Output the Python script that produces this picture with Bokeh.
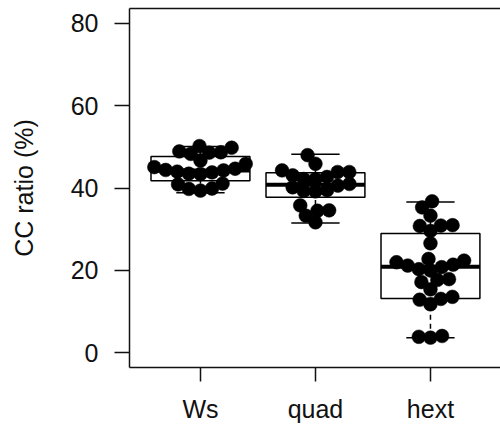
import math
from bokeh.plotting import figure
from bokeh.models import Range1d, FixedTicker, LinearAxis
from bokeh.embed import file_html
from bokeh.resources import INLINE

# ---------------- data ----------------
categories = ["Ws", "quad", "hext"]
cat_pos = [1, 2, 3]

ws_values = [39.4, 39.8, 39.9, 40.9, 41.1, 43.4, 43.5, 43.8, 44.0, 44.3, 44.4,
             44.7, 45.1, 45.9, 46.7, 48.3, 48.6, 48.7, 48.9, 49.8, 50.2]
quad_values = [31.7, 33.3, 34.5, 34.6, 35.8, 39.2, 39.3, 39.5, 40.2, 40.6,
               41.0, 42.2, 42.2, 42.7, 43.1, 43.9, 43.9, 44.3, 45.9, 48.0]
hext_values = [3.7, 3.9, 4.1, 11.8, 12.9, 13.1, 13.6, 15.4, 17.2, 17.7, 17.9,
               20.0, 20.3, 20.8, 21.2, 21.4, 22.0, 22.4, 22.8, 26.6, 29.6,
               30.8, 30.9, 31.0, 33.3, 35.3, 36.8]

whisker_low = [38.9, 31.5, 3.7]
q1 = [41.8, 37.8, 13.2]
median = [44.3, 40.8, 20.9]
q3 = [47.7, 43.7, 29.0]
whisker_high = [50.1, 48.2, 36.6]

y_ticks = [0, 20, 40, 60, 80]
y_label = "CC ratio (%)"

# ---------------- layout constants ----------------
W, H = 500, 425
B_LEFT, B_TOP, B_BOTTOM = 129, 8, 58
X0, X1 = 0.383, 3.609
Y0, Y1 = -3.55, 83.6
FONT = "Liberation Sans"
FS = "25px"
BOX_HW = 0.43
CAP_HW = 0.21
DOT = 13.8
SPACING = 11.7

frame_w = W - B_LEFT
frame_h = H - B_TOP - B_BOTTOM
px_x = frame_w / (X1 - X0)
px_y = frame_h / (Y1 - Y0)


def swarm(vals):
    order = sorted(range(len(vals)), key=lambda i: vals[i])
    placed = []
    offs = [0.0] * len(vals)
    for i in order:
        y = vals[i] * px_y
        cands = [0.0]
        for xj, yj in placed:
            dy = y - yj
            if abs(dy) < SPACING:
                dx = math.sqrt(SPACING ** 2 - dy ** 2)
                cands += [xj - dx, xj + dx]
        cands.sort(key=abs)
        chosen = cands[-1]
        for c in cands:
            if all((c - xj) ** 2 + (y - yj) ** 2 >= SPACING ** 2 - 1e-6 for xj, yj in placed):
                chosen = c
                break
        placed.append((chosen, y))
        offs[i] = chosen
    return [o / px_x for o in offs]


p = figure(width=W, height=H, x_range=Range1d(X0, X1), y_range=Range1d(Y0, Y1),
           output_backend="svg", toolbar_location=None,
           min_border_left=B_LEFT, min_border_right=0,
           min_border_top=B_TOP, min_border_bottom=B_BOTTOM)
p.grid.visible = False
p.outline_line_color = None
p.background_fill_color = "white"
p.border_fill_color = "white"

# axes
xa = p.xaxis[0]
xa.ticker = FixedTicker(ticks=cat_pos)
xa.major_label_overrides = {c: n for c, n in zip(cat_pos, categories)}
ya = p.yaxis[0]
ya.ticker = FixedTicker(ticks=y_ticks)
ya.axis_label = y_label
for ax in (xa, ya):
    ax.axis_line_width = 1.5
    ax.axis_line_color = "#111111"
    ax.major_tick_line_width = 1.5
    ax.major_tick_line_color = "#111111"
    ax.major_tick_in = 0
    ax.minor_tick_line_color = None
    ax.major_label_text_font = FONT
    ax.major_label_text_font_size = FS
    ax.major_label_text_color = "#111111"
xa.major_tick_out = 14
xa.major_label_standoff = 13
ya.major_tick_out = 15
ya.major_label_standoff = 16
ya.axis_label_text_font = FONT
ya.axis_label_text_font_size = FS
ya.axis_label_text_font_style = "normal"
ya.axis_label_text_color = "#111111"
ya.axis_label_standoff = 30

top_axis = LinearAxis(ticker=FixedTicker(ticks=[]), axis_line_width=1.5,
                      axis_line_color="#111111", major_tick_out=0, major_tick_in=0,
                      minor_tick_out=0, minor_tick_in=0,
                      major_label_text_font_size="0px")
p.add_layout(top_axis, "above")

# boxes
p.quad(left=[c - BOX_HW for c in cat_pos], right=[c + BOX_HW for c in cat_pos],
       bottom=q1, top=q3, fill_color="white", line_color="black", line_width=1.5)
# whiskers
p.segment(x0=cat_pos, x1=cat_pos, y0=q3, y1=whisker_high, line_color="black",
          line_width=1.5, line_dash="5 4")
p.segment(x0=cat_pos, x1=cat_pos, y0=whisker_low, y1=q1, line_color="black",
          line_width=1.5, line_dash="5 4")
# caps
p.segment(x0=[c - CAP_HW for c in cat_pos], x1=[c + CAP_HW for c in cat_pos],
          y0=whisker_high, y1=whisker_high, line_color="black", line_width=1.5)
p.segment(x0=[c - CAP_HW for c in cat_pos], x1=[c + CAP_HW for c in cat_pos],
          y0=whisker_low, y1=whisker_low, line_color="black", line_width=1.5)
# medians
p.segment(x0=[c - BOX_HW for c in cat_pos], x1=[c + BOX_HW for c in cat_pos],
          y0=median, y1=median, line_color="black", line_width=4)

# points (beeswarm)
for c, vals in zip(cat_pos, [ws_values, quad_values, hext_values]):
    offs = swarm(vals)
    p.scatter(x=[c + o for o in offs], y=vals, size=DOT, marker="circle",
              fill_color="black", line_color="black", line_width=0.5)

open("out.html", "w").write(file_html(p, INLINE))
